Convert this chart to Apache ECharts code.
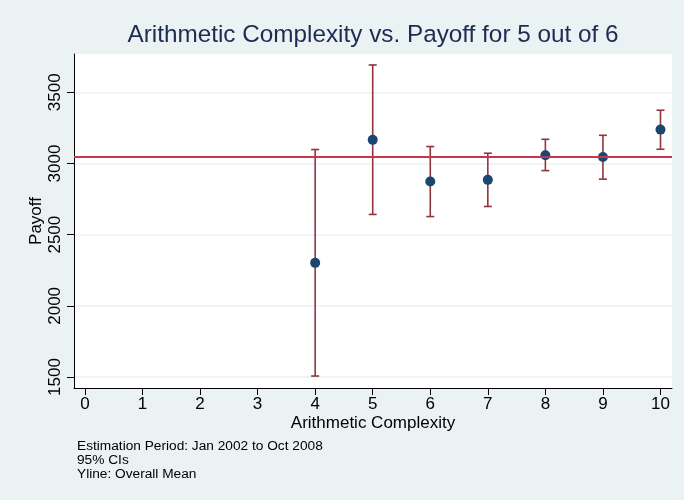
<!DOCTYPE html>
<html>
<head>
<meta charset="utf-8">
<title>Arithmetic Complexity vs. Payoff</title>
<script src="https://cdn.jsdelivr.net/npm/echarts@6/dist/echarts.min.js"></script>
<style>
  html, body { margin: 0; padding: 0; background: #eaf2f3; }
  #chart { width: 684px; height: 500px; }
</style>
</head>
<body>
<div id="chart"></div>
<script>
// Payoff by arithmetic complexity, with 95% confidence intervals
const complexity = [4, 5, 6, 7, 8, 9, 10];
const payoffMean = [2302, 3166, 2873, 2885, 3058, 3046, 3238];
const ciLower    = [1507, 2642, 2627, 2698, 2950, 2890, 3100];
const ciUpper    = [3098, 3692, 3119, 3072, 3170, 3198, 3374];
const overallMean = 3049;

const xTicks = [0, 1, 2, 3, 4, 5, 6, 7, 8, 9, 10];
const yTicks = [1500, 2000, 2500, 3000, 3500];

const FONT = "'Liberation Sans', Arial, Helvetica, sans-serif";

const chart = echarts.init(document.getElementById('chart'), null, { renderer: 'canvas' });

const pointData = complexity.map((x, i) => [x, payoffMean[i]]);
const barData = complexity.map((x, i) => [x, ciLower[i], ciUpper[i]]);

chart.setOption({
  backgroundColor: '#eaf2f3',
  animation: false,
  grid: {
    left: 74, right: 12, top: 54, bottom: 112,
    show: true, backgroundColor: '#ffffff', borderWidth: 0
  },
  xAxis: {
    type: 'value',
    min: -0.19, max: 10.2,
    name: 'Arithmetic Complexity',
    nameLocation: 'middle',
    nameGap: 27,
    nameMoveOverlap: false,
    nameTextStyle: { fontFamily: FONT, fontSize: 17, color: '#000' },
    axisLine: { show: true, onZero: false, lineStyle: { color: '#000', width: 1 } },
    axisTick: { show: true, length: 7, customValues: xTicks, lineStyle: { color: '#000' } },
    axisLabel: { customValues: xTicks, margin: 8, fontFamily: FONT, fontSize: 17, color: '#000' },
    splitLine: { show: false }
  },
  yAxis: {
    type: 'value',
    min: 1423, max: 3769,
    name: 'Payoff',
    nameLocation: 'middle',
    nameRotate: 90,
    nameGap: 29,
    nameMoveOverlap: false,
    nameTextStyle: { fontFamily: FONT, fontSize: 17, color: '#000' },
    axisLine: { show: true, onZero: false, lineStyle: { color: '#000', width: 1 } },
    axisTick: { show: true, length: 7, customValues: yTicks, lineStyle: { color: '#000' } },
    axisLabel: {
      customValues: yTicks, rotate: 90, margin: 10,
      formatter: function (v) { return String(v); },
      fontFamily: FONT, fontSize: 17, color: '#000'
    },
    splitLine: { show: true, lineStyle: { color: '#eaf2f3', width: 1.5 } }
  },
  series: [
    {
      // confidence interval caps
      type: 'custom',
      z: 2,
      data: barData,
      renderItem: function (params, api) {
        const x = api.value(0);
        const lo = api.coord([x, api.value(1)]);
        const hi = api.coord([x, api.value(2)]);
        const hw = 4;
        const style = { stroke: '#90353b', lineWidth: 1.6, fill: null };
        return {
          type: 'group',
          children: [
            { type: 'line', shape: { x1: lo[0], y1: lo[1], x2: hi[0], y2: hi[1] }, style: style },
            { type: 'line', shape: { x1: lo[0] - hw, y1: lo[1], x2: lo[0] + hw, y2: lo[1] }, style: style },
            { type: 'line', shape: { x1: hi[0] - hw, y1: hi[1], x2: hi[0] + hw, y2: hi[1] }, style: style }
          ]
        };
      }
    },
    {
      // overall mean reference line
      type: 'line',
      z: 3,
      data: [],
      markLine: {
        silent: true,
        symbol: ['none', 'none'],
        label: { show: false },
        lineStyle: { color: '#c8354f', width: 2, type: 'solid' },
        data: [{ yAxis: overallMean }]
      }
    },
    {
      type: 'scatter',
      z: 4,
      symbol: 'circle',
      symbolSize: 10,
      itemStyle: { color: '#1a476f', opacity: 1 },
      data: pointData
    }
  ],
  graphic: [
    {
      type: 'text', x: 373, y: 23,
      style: {
        text: 'Arithmetic Complexity vs. Payoff for 5 out of 6',
        textAlign: 'center',
        fontFamily: FONT, fontSize: 24.3, fill: '#1e2b52'
      }
    },
    {
      type: 'text', left: 77, top: 439,
      style: {
        text: 'Estimation Period: Jan 2002 to Oct 2008\n95% CIs\nYline: Overall Mean',
        fontFamily: FONT, fontSize: 13.7, lineHeight: 14, fill: '#000'
      }
    }
  ]
});
</script>
</body>
</html>
